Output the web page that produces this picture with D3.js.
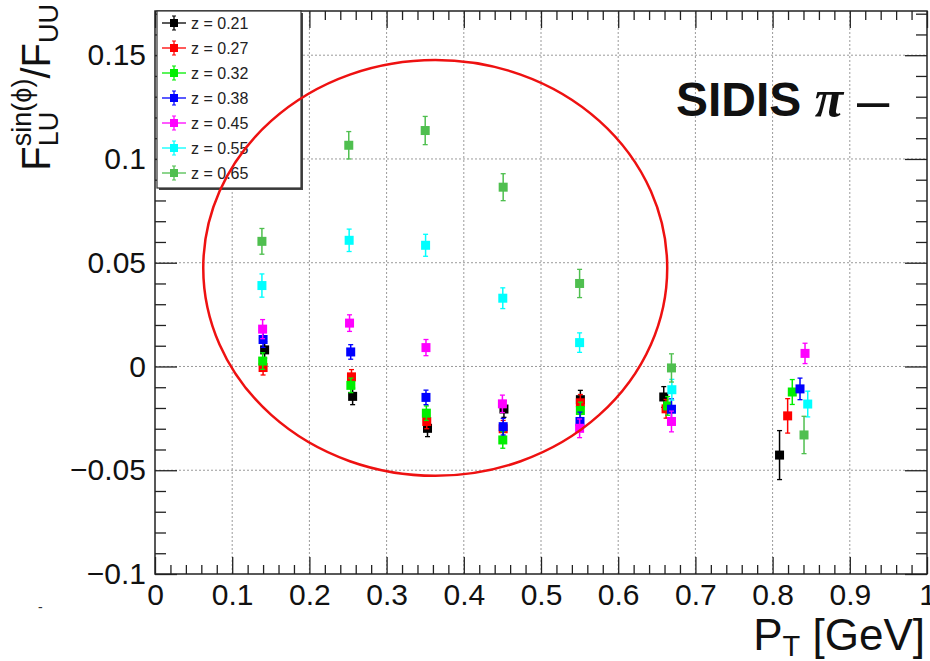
<!DOCTYPE html>
<html>
<head>
<meta charset="utf-8">
<script src="https://cdn.jsdelivr.net/npm/d3@7"></script>
<style>
  body { margin: 0; background: #fff; }
  svg { display: block; font-family: "Liberation Sans", Arial, sans-serif; }
</style>
</head>
<body>
<svg width="930" height="661"></svg>
<script>
// z bins and colours (legend order)
const zLabels = ["0.21", "0.27", "0.32", "0.38", "0.45", "0.55", "0.65"];
const zColors = ["#000000", "#ff0000", "#00ee00", "#0000ff", "#ff00ff", "#00ffff", "#4fbf4f"];

// mean P_T per bin, one row per z bin
const ptZ021 = [0.142, 0.256, 0.353, 0.452, 0.551, 0.659, 0.809];
const ptZ027 = [0.140, 0.2545, 0.352, 0.451, 0.551, 0.662, 0.8195];
const ptZ032 = [0.1395, 0.2537, 0.3515, 0.4505, 0.551, 0.664, 0.8255];
const ptZ038 = [0.140, 0.2535, 0.351, 0.451, 0.5505, 0.669, 0.8355];
const ptZ045 = [0.1394, 0.252, 0.351, 0.450, 0.550, 0.669, 0.842];
const ptZ055 = [0.1385, 0.2515, 0.3505, 0.4505, 0.550, 0.6695, 0.8455];
const ptZ065 = [0.1385, 0.251, 0.350, 0.451, 0.550, 0.669, 0.8407];

// F_LU^sin(phi)/F_UU
const valZ021 = [0.008, -0.0144, -0.0298, -0.0205, -0.016, -0.0147, -0.0427];
const valZ027 = [-0.0005, -0.005, -0.0265, -0.030, -0.0175, -0.0204, -0.0238];
const valZ032 = [0.0026, -0.0091, -0.0225, -0.0354, -0.0212, -0.019, -0.0123];
const valZ038 = [0.013, 0.007, -0.0149, -0.029, -0.0265, -0.0206, -0.0108];
const valZ045 = [0.018, 0.0209, 0.0091, -0.018, -0.0298, -0.0265, 0.0063];
const valZ055 = [0.039, 0.0608, 0.0584, 0.0329, 0.0115, -0.0112, -0.0181];
const valZ065 = [0.0603, 0.1066, 0.1137, 0.0864, 0.040, -0.0007, -0.033];

// statistical errors
const errZ021 = [0.004, 0.004, 0.004, 0.004, 0.0045, 0.005, 0.0118];
const errZ027 = [0.0036, 0.0035, 0.0035, 0.004, 0.004, 0.0045, 0.0083];
const errZ032 = [0.004, 0.0035, 0.0035, 0.004, 0.004, 0.0045, 0.006];
const errZ038 = [0.0038, 0.0035, 0.0035, 0.004, 0.0045, 0.005, 0.0052];
const errZ045 = [0.0046, 0.004, 0.0039, 0.0042, 0.0045, 0.005, 0.0049];
const errZ055 = [0.0056, 0.0054, 0.0053, 0.005, 0.0047, 0.005, 0.0062];
const errZ065 = [0.0062, 0.0066, 0.0068, 0.0065, 0.0068, 0.0068, 0.009];

const xTicks = [0, 0.1, 0.2, 0.3, 0.4, 0.5, 0.6, 0.7, 0.8, 0.9, 1];
const yTicks = [-0.1, -0.05, 0, 0.05, 0.1, 0.15];

// red ring drawn over the plot, centre and half-widths in data units
const ringCenter = [0.363, 0.0475];
const ringHalf = [0.3005, 0.1002];

const pts = [ptZ021, ptZ027, ptZ032, ptZ038, ptZ045, ptZ055, ptZ065];
const vals = [valZ021, valZ027, valZ032, valZ038, valZ045, valZ055, valZ065];
const errs = [errZ021, errZ027, errZ032, errZ038, errZ045, errZ055, errZ065];

const series = zLabels.map((z, i) => ({
  label: "z = " + z,
  color: zColors[i],
  points: pts[i].map((p, j) => ({ pt: p, v: vals[i][j], e: errs[i][j] }))
}));

const svg = d3.select("svg");

const x = d3.scaleLinear().domain([0, 1]).range([155, 927]);
const y = d3.scaleLinear().domain([-0.1, 0.1713]).range([574, 11]);
const [x0, x1] = x.range();
const [yb, yt] = y.range();

const fmt = d => d3.format("~g")(d);
const xMinor = d3.range(0, 1.0001, 0.02).filter(v => Math.abs(v * 10 - Math.round(v * 10)) > 1e-6);
const yMinor = d3.range(-0.1, 0.171, 0.01).filter(v => Math.abs(v * 20 - Math.round(v * 20)) > 1e-6);

// grid
const grid = svg.append("g").attr("stroke", "#9a9a9a").attr("stroke-width", 1).attr("stroke-dasharray", "2,2");
grid.selectAll("line.gx").data(xTicks.slice(1, -1)).join("line")
  .attr("x1", d => x(d)).attr("x2", d => x(d)).attr("y1", yb).attr("y2", yt);
grid.selectAll("line.gy").data(yTicks.slice(1)).join("line")
  .attr("x1", x0).attr("x2", x1).attr("y1", d => y(d)).attr("y2", d => y(d));

// axes
function styleAxis(g) {
  g.select(".domain").remove();
  g.selectAll(".tick line").attr("stroke", "#222").attr("stroke-width", 1.3);
  g.selectAll("text").attr("font-size", 30).attr("fill", "#111").attr("font-family", "Liberation Sans, Arial, sans-serif");
}

svg.append("g").attr("transform", `translate(0,${yb})`)
  .call(d3.axisBottom(x).tickValues(xTicks).tickSize(-17).tickPadding(10).tickFormat(fmt)).call(styleAxis);
svg.append("g").attr("transform", `translate(0,${yb})`)
  .call(d3.axisBottom(x).tickValues(xMinor).tickSize(-9).tickFormat("")).call(styleAxis);
svg.append("g").attr("transform", `translate(0,${yt})`)
  .call(d3.axisTop(x).tickValues(xTicks).tickSize(-17).tickFormat("")).call(styleAxis);
svg.append("g").attr("transform", `translate(0,${yt})`)
  .call(d3.axisTop(x).tickValues(xMinor).tickSize(-9).tickFormat("")).call(styleAxis);

svg.append("g").attr("transform", `translate(${x0},0)`)
  .call(d3.axisLeft(y).tickValues(yTicks).tickSize(-22).tickPadding(9).tickFormat(fmt)).call(styleAxis);
svg.append("g").attr("transform", `translate(${x0},0)`)
  .call(d3.axisLeft(y).tickValues(yMinor).tickSize(-11).tickFormat("")).call(styleAxis);
svg.append("g").attr("transform", `translate(${x1},0)`)
  .call(d3.axisRight(y).tickValues(yTicks).tickSize(-22).tickFormat("")).call(styleAxis);
svg.append("g").attr("transform", `translate(${x1},0)`)
  .call(d3.axisRight(y).tickValues(yMinor).tickSize(-11).tickFormat("")).call(styleAxis);

// frame
svg.append("rect").attr("x", x0).attr("y", yt).attr("width", x1 - x0).attr("height", yb - yt)
  .attr("fill", "none").attr("stroke", "#222").attr("stroke-width", 1.5);

// data points with error bars
const ms = 9, cap = 2.5;
const sg = svg.append("g").selectAll("g").data(series).join("g")
  .attr("stroke", d => d.color).attr("fill", d => d.color);
sg.each(function (s) {
  const g = d3.select(this);
  const p = g.selectAll("g").data(s.points).join("g");
  p.append("line").attr("stroke-width", 1.5)
    .attr("x1", d => x(d.pt)).attr("x2", d => x(d.pt))
    .attr("y1", d => y(d.v - d.e)).attr("y2", d => y(d.v + d.e));
  p.append("line").attr("stroke-width", 1.3)
    .attr("x1", d => x(d.pt) - cap).attr("x2", d => x(d.pt) + cap)
    .attr("y1", d => y(d.v + d.e)).attr("y2", d => y(d.v + d.e));
  p.append("line").attr("stroke-width", 1.3)
    .attr("x1", d => x(d.pt) - cap).attr("x2", d => x(d.pt) + cap)
    .attr("y1", d => y(d.v - d.e)).attr("y2", d => y(d.v - d.e));
  p.append("rect").attr("stroke", "none")
    .attr("x", d => x(d.pt) - ms / 2).attr("y", d => y(d.v) - ms / 2)
    .attr("width", ms).attr("height", ms);
});

// legend
const lg = svg.append("g");
lg.append("rect").attr("x", 159).attr("y", 13).attr("width", 144).attr("height", 177).attr("fill", "#444");
lg.append("rect").attr("x", 157).attr("y", 11).attr("width", 144).attr("height", 177)
  .attr("fill", "#fff").attr("stroke", "#333").attr("stroke-width", 1.2);
const le = lg.selectAll("g.e").data(series).join("g")
  .attr("transform", (d, i) => `translate(0,${23 + i * 25})`);
le.append("line").attr("x1", 162).attr("x2", 186).attr("y1", 0).attr("y2", 0)
  .attr("stroke", d => d.color).attr("stroke-width", 1.3);
le.append("line").attr("x1", 174).attr("x2", 174).attr("y1", -7).attr("y2", 7)
  .attr("stroke", d => d.color).attr("stroke-width", 1.3);
le.append("line").attr("x1", 172).attr("x2", 176).attr("y1", -7).attr("y2", -7).attr("stroke", d => d.color);
le.append("line").attr("x1", 172).attr("x2", 176).attr("y1", 7).attr("y2", 7).attr("stroke", d => d.color);
le.append("rect").attr("x", 170).attr("y", -4).attr("width", 8).attr("height", 8).attr("fill", d => d.color);
le.append("text").attr("x", 191).attr("y", 6).attr("font-size", 16).attr("fill", "#222").text(d => d.label);

// ring
svg.append("ellipse")
  .attr("cx", x(ringCenter[0])).attr("cy", y(ringCenter[1]))
  .attr("rx", x(ringCenter[0] + ringHalf[0]) - x(ringCenter[0]))
  .attr("ry", y(ringCenter[1]) - y(ringCenter[1] + ringHalf[1]))
  .attr("fill", "none").attr("stroke", "#ee1111").attr("stroke-width", 2.5);

// title
const t = svg.append("text").attr("x", 676).attr("y", 116).attr("fill", "#111");
t.append("tspan").attr("font-size", 48).attr("font-weight", "bold").text("SIDIS ");
t.append("tspan").attr("font-size", 52).attr("font-weight", "bold").attr("font-style", "italic")
  .attr("font-family", "Liberation Serif, serif").text("π");
t.append("tspan").attr("font-size", 58).attr("dx", 14).attr("dy", 4).text("–");

// y title
const yt2 = svg.append("text").attr("transform", "translate(50,4) rotate(-90)")
  .attr("text-anchor", "end").attr("fill", "#111").attr("font-size", 40);
yt2.append("tspan").text("F");
yt2.append("tspan").attr("font-size", 27).attr("dy", 8).text("LU");
yt2.append("tspan").attr("font-size", 27).attr("dx", -34.5).attr("dy", -27).text("sin(ϕ)");
yt2.append("tspan").attr("dy", 19).text("/F");
yt2.append("tspan").attr("font-size", 27).attr("dy", 8).text("UU");

// x title
const xt = svg.append("text").attr("x", 925).attr("y", 650).attr("text-anchor", "end")
  .attr("fill", "#111").attr("font-size", 44);
xt.append("tspan").text("P");
xt.append("tspan").attr("font-size", 29).attr("dy", 6).text("T");
xt.append("tspan").attr("dy", -6).text(" [GeV]");

// stray mark left of the x axis
svg.append("text").attr("x", 38).attr("y", 612).attr("font-size", 14).attr("fill", "#333").text("-");
</script>
</body>
</html>
